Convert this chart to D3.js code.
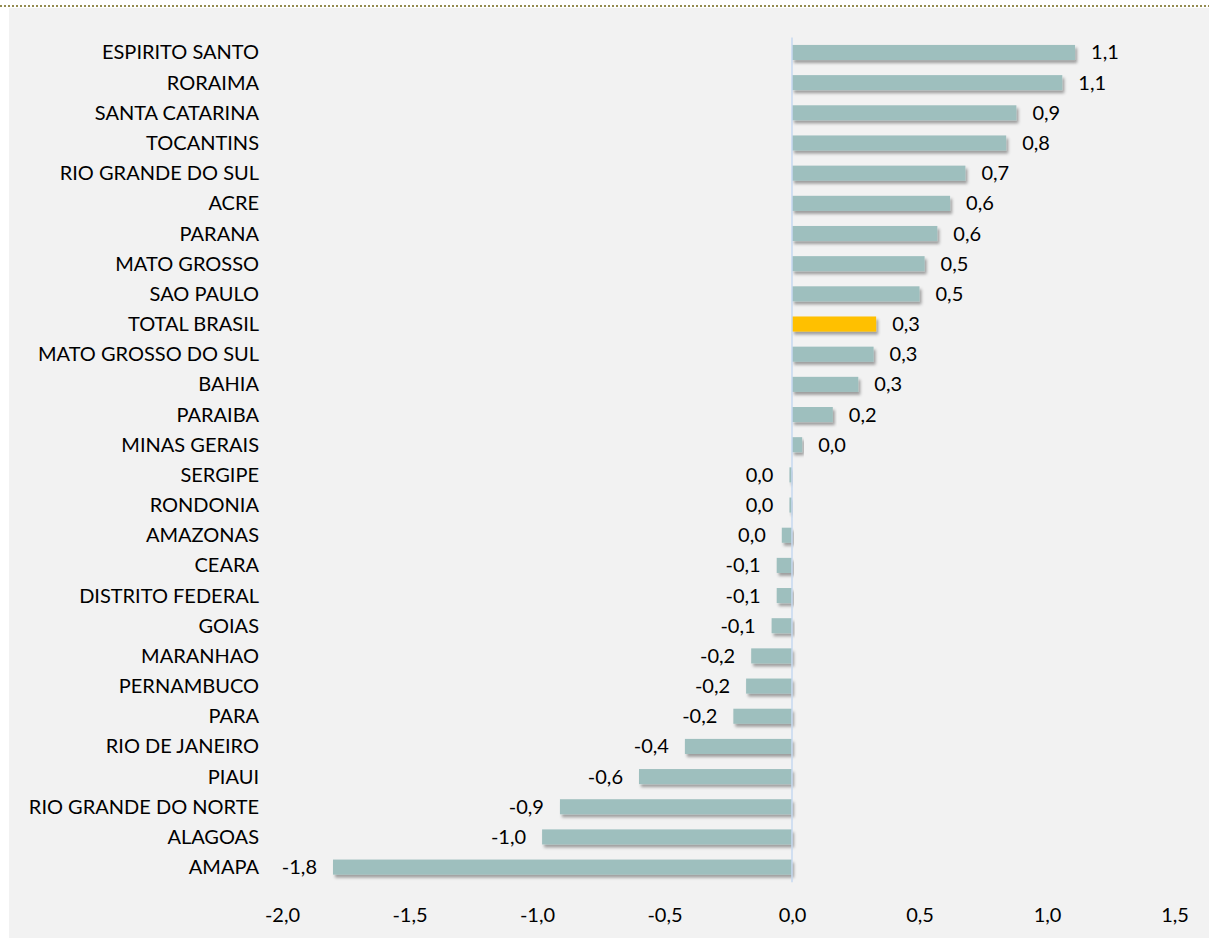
<!DOCTYPE html>
<html>
<head>
<meta charset="utf-8">
<script src="https://cdn.jsdelivr.net/npm/d3@7"></script>
<style>
  html, body { margin: 0; padding: 0; background: #ffffff; }
  svg { display: block; }
  text { font-family: Lato, "Open Sans", sans-serif; fill: #000; }
</style>
</head>
<body>
<svg id="chart" width="1209" height="938"></svg>
<script>
const categories = [
  "ESPIRITO SANTO", "RORAIMA", "SANTA CATARINA", "TOCANTINS", "RIO GRANDE DO SUL",
  "ACRE", "PARANA", "MATO GROSSO", "SAO PAULO", "TOTAL BRASIL", "MATO GROSSO DO SUL",
  "BAHIA", "PARAIBA", "MINAS GERAIS", "SERGIPE", "RONDONIA", "AMAZONAS", "CEARA",
  "DISTRITO FEDERAL", "GOIAS", "MARANHAO", "PERNAMBUCO", "PARA", "RIO DE JANEIRO",
  "PIAUI", "RIO GRANDE DO NORTE", "ALAGOAS", "AMAPA"
];
const values = [
  1.11, 1.06, 0.88, 0.84, 0.68,
  0.62, 0.57, 0.52, 0.50, 0.33, 0.32,
  0.26, 0.16, 0.04, -0.01, -0.01, -0.04, -0.06,
  -0.06, -0.08, -0.16, -0.18, -0.23, -0.42,
  -0.60, -0.91, -0.98, -1.80
];
const highlight = "TOTAL BRASIL";
const xTicks = [-2.0, -1.5, -1.0, -0.5, 0.0, 0.5, 1.0, 1.5];

const data = categories.map((c, i) => ({ cat: c, v: values[i] }));
const fmt = v => {
  const r = Math.round(v * 10) / 10;
  if (r === 0) return "0,0";
  return r.toFixed(1).replace(".", ",");
};

const svg = d3.select("#chart");
const W = 1209, H = 938;

// background panel + dotted top rule
svg.append("rect").attr("x", 9).attr("y", 8).attr("width", W - 9).attr("height", H - 8).attr("fill", "#f2f2f2");
svg.append("line").attr("x1", 0).attr("x2", W).attr("y1", 6).attr("y2", 6)
  .attr("stroke", "#948c52").attr("stroke-width", 2).attr("stroke-dasharray", "2,2");

const defs = svg.append("defs");
const f = defs.append("filter").attr("id", "shadow").attr("x", "-5%").attr("y", "-40%").attr("width", "115%").attr("height", "200%");
f.append("feDropShadow").attr("dx", 2).attr("dy", 3).attr("stdDeviation", 1.6)
  .attr("flood-color", "#000").attr("flood-opacity", 0.35);

const x = d3.scaleLinear().domain([-2, 1.5]).range([282, 1174.5]);
const y = d3.scaleBand().domain(categories).range([37.4, 882.2]).paddingInner(0.5).paddingOuter(0.25);

const FS = 20;

// bars
svg.append("g").selectAll("rect").data(data).join("rect")
  .attr("x", d => x(Math.min(0, d.v)))
  .attr("y", d => y(d.cat))
  .attr("width", d => Math.abs(x(d.v) - x(0)))
  .attr("height", y.bandwidth())
  .attr("fill", d => d.cat === highlight ? "#ffc000" : "#9ebfbe")
  .attr("filter", "url(#shadow)");

// zero axis line
svg.append("line").attr("x1", x(0)).attr("x2", x(0)).attr("y1", 37.4).attr("y2", 882.2)
  .attr("stroke", "#c6d9f0").attr("stroke-width", 1.5);

// category labels
svg.append("g").selectAll("text").data(data).join("text")
  .attr("x", 259)
  .attr("y", d => y(d.cat) + y.bandwidth() / 2)
  .attr("dy", "0.35em")
  .attr("text-anchor", "end")
  .attr("font-size", FS)
  .text(d => d.cat);

// value labels
svg.append("g").selectAll("text").data(data).join("text")
  .attr("x", d => d.v >= 0 ? x(d.v) + 16 : x(d.v) - 16)
  .attr("y", d => y(d.cat) + y.bandwidth() / 2)
  .attr("dy", "0.35em")
  .attr("text-anchor", d => d.v >= 0 ? "start" : "end")
  .attr("font-size", FS)
  .text(d => fmt(d.v));

// x axis
const xAxis = d3.axisBottom(x).tickValues(xTicks).tickSize(0).tickPadding(0)
  .tickFormat(v => v.toFixed(1).replace(".", ","));
const ax = svg.append("g").attr("transform", "translate(0,915)").call(xAxis);
ax.select(".domain").remove();
ax.selectAll("text").attr("font-size", FS).attr("font-family", "Lato, 'Open Sans', sans-serif")
  .attr("fill", "#000").attr("dy", "0.35em").attr("y", 0);
</script>
</body>
</html>
